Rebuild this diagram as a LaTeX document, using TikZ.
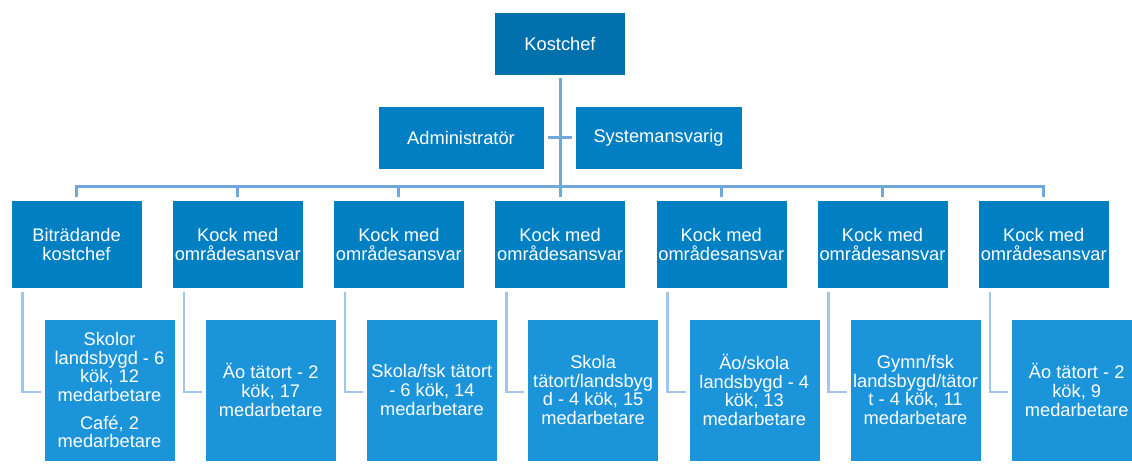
\documentclass[tikz,border=0pt]{standalone}
\usepackage{fontspec}
\setmainfont{Liberation Sans}
\definecolor{ChefClr}{rgb}{0.0,0.44,0.68}
\definecolor{LevelClr}{rgb}{0.0,0.50,0.76}
\definecolor{UnitClr}{rgb}{0.11,0.58,0.85}
\definecolor{BusClr}{rgb}{0.44,0.66,0.87}
\definecolor{SideClr}{rgb}{0.64,0.77,0.92}

\begin{document}
\begin{tikzpicture}[x=0.75pt,y=-0.75pt,
  box/.style={draw=white,line width=0.4pt,text=white,align=center,inner sep=0pt,
    font=\fontsize{13.7pt}{14pt}\selectfont},
  chefbox/.style={box,fill=ChefClr,minimum width=98.25pt,minimum height=47.25pt},
  staffbox/.style={box,fill=LevelClr,minimum height=47.25pt},
  levelbox/.style={box,fill=LevelClr,minimum width=98.25pt,minimum height=66pt},
  unitbox/.style={box,fill=UnitClr,minimum width=98.25pt,minimum height=106.5pt},
  busline/.style={draw=BusClr,line width=2.25pt},
  sideline/.style={draw=SideClr,line width=2pt}]
\useasboundingbox (0,0) rectangle (1132,464);

\node[chefbox] (chef) at (560,43.5) {Kostchef};
\node[staffbox,minimum width=124.5pt] (admin) at (461,137.5) {Administratör};
\node[staffbox,minimum width=125.25pt] (sys) at (658.5,137.5) {Systemansvarig};

\node[levelbox] (b1) at (76.5,244.5) {Biträdande\\kostchef};
\node[levelbox] (b2) at (237.7,244.5) {Kock med\\områdesansvar};
\node[levelbox] (b3) at (398.9,244.5) {Kock med\\områdesansvar};
\node[levelbox] (b4) at (560.1,244.5) {Kock med\\områdesansvar};
\node[levelbox] (b5) at (721.3,244.5) {Kock med\\områdesansvar};
\node[levelbox] (b6) at (882.5,244.5) {Kock med\\områdesansvar};
\node[levelbox] (b7) at (1043.7,244.5) {Kock med\\områdesansvar};

\node[unitbox] (e1) at (109.5,390) {Skolor\\landsbygd - 6\\kök, 12\\medarbetare\\[6.75pt]Café, 2\\medarbetare};
\node[unitbox] (e2) at (270.7,390) {Äo tätort - 2\\kök, 17\\medarbetare};
\node[unitbox] (e3) at (431.9,390) {Skola/fsk tätort\\- 6 kök, 14\\medarbetare};
\node[unitbox] (e4) at (593.1,390) {Skola\\tätort/landsbyg\\d - 4 kök, 15\\medarbetare};
\node[unitbox] (e5) at (754.3,390) {Äo/skola\\landsbygd - 4\\kök, 13\\medarbetare};
\node[unitbox] (e6) at (915.5,390) {Gymn/fsk\\landsbygd/tätor\\t - 4 kök, 11\\medarbetare};
\node[unitbox] (e7) at (1076.7,390) {Äo tätort - 2\\kök, 9\\medarbetare};

\coordinate (busL) at (b1.north |- 0,186);
\coordinate (busR) at (b7.north |- 0,186);
\coordinate (busM) at (chef.south |- 0,186);

\draw[busline,shorten <=2.25pt] (chef.south) -- (busM);
\draw[busline,line cap=rect] (busL) -- (busR);
\draw[busline,shorten <=3pt,shorten >=2.25pt] (admin.east) -- (sys.west);
\foreach \i in {1,...,7}{
  \draw[busline,shorten >=2.25pt] (b\i.north |- busM) -- (b\i.north);
  \draw[sideline,shorten <=2.25pt,shorten >=2.25pt] ([xshift=9pt]b\i.south west) |- ([yshift=-1.5pt]e\i.west);
}
\end{tikzpicture}
\end{document}
